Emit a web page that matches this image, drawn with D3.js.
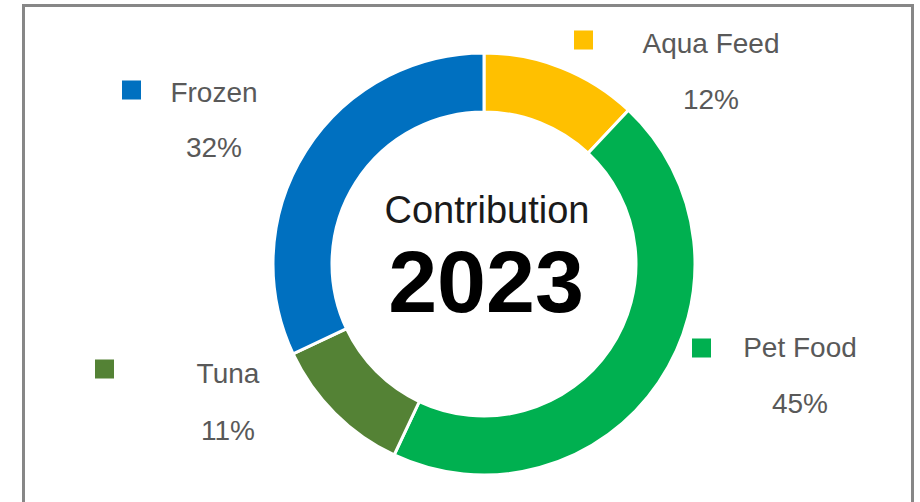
<!DOCTYPE html>
<html>
<head>
<meta charset="utf-8">
<script src="https://cdn.jsdelivr.net/npm/d3@7"></script>
<style>
  body { margin: 0; background: #fff; }
  svg { display: block; }
</style>
</head>
<body>
<svg id="chart"></svg>
<script>
// data
const categories = ['Aqua Feed', 'Pet Food', 'Tuna', 'Frozen'];
const shares = [12, 45, 11, 32];
const colors = ['#FFC000', '#00B050', '#548235', '#0070C0'];
const centerTitle = 'Contribution';
const centerYear = '2023';

// label placement (marker x/y, label text center x, baselines)
const labelPos = {
    'Aqua Feed': { mx: 584, my: 40, tx: 711, ty: 53, py: 109 },
    'Pet Food':  { mx: 702, my: 348, tx: 800, ty: 357, py: 413 },
    'Tuna':      { mx: 105, my: 369, tx: 228, ty: 383, py: 440 },
    'Frozen':    { mx: 132, my: 90, tx: 214, ty: 102, py: 157 }
};

const w = 920, h = 502;
const cx = 484, cy = 264;
const outerR = 211, innerR = 152;

const svg = d3.select('#chart')
    .attr('width', w)
    .attr('height', h);

// frame
svg.append('rect')
    .attr('x', 23.5)
    .attr('y', 5.5)
    .attr('width', 889)
    .attr('height', 520)
    .attr('fill', '#fff')
    .attr('stroke', '#878787')
    .attr('stroke-width', 3);

const data = categories.map((c, i) => ({ name: c, value: shares[i], color: colors[i] }));

const pie = d3.pie()
    .value(d => d.value)
    .sort(null);

const arc = d3.arc()
    .innerRadius(innerR)
    .outerRadius(outerR);

const g = svg.append('g')
    .attr('transform', `translate(${cx},${cy})`);

g.selectAll('path')
    .data(pie(data))
    .enter()
    .append('path')
    .attr('d', arc)
    .attr('fill', d => d.data.color)
    .attr('stroke', '#fff')
    .attr('stroke-width', 3);

// center text
g.append('text')
    .attr('x', 3)
    .attr('y', -41)
    .attr('text-anchor', 'middle')
    .style('font-family', 'Liberation Sans, Arial, sans-serif')
    .style('font-size', '38px')
    .attr('fill', '#1a1a1a')
    .text(centerTitle);

g.append('text')
    .attr('x', 2)
    .attr('y', 48)
    .attr('text-anchor', 'middle')
    .style('font-family', 'Liberation Sans, Arial, sans-serif')
    .style('font-size', '88px')
    .style('font-weight', 'bold')
    .attr('fill', '#000')
    .text(centerYear);

// labels
const labels = svg.append('g')
    .selectAll('g')
    .data(data)
    .enter()
    .append('g');

labels.append('rect')
    .attr('x', d => labelPos[d.name].mx - 10)
    .attr('y', d => labelPos[d.name].my - 9.5)
    .attr('width', 19)
    .attr('height', 19)
    .attr('fill', d => d.color);

labels.append('text')
    .attr('x', d => labelPos[d.name].tx)
    .attr('y', d => labelPos[d.name].ty)
    .attr('text-anchor', 'middle')
    .style('font-family', 'Liberation Sans, Arial, sans-serif')
    .style('font-size', '28px')
    .attr('fill', '#595959')
    .text(d => d.name);

labels.append('text')
    .attr('x', d => labelPos[d.name].tx)
    .attr('y', d => labelPos[d.name].py)
    .attr('text-anchor', 'middle')
    .style('font-family', 'Liberation Sans, Arial, sans-serif')
    .style('font-size', '28px')
    .attr('fill', '#595959')
    .text(d => d.value + '%');
</script>
</body>
</html>
